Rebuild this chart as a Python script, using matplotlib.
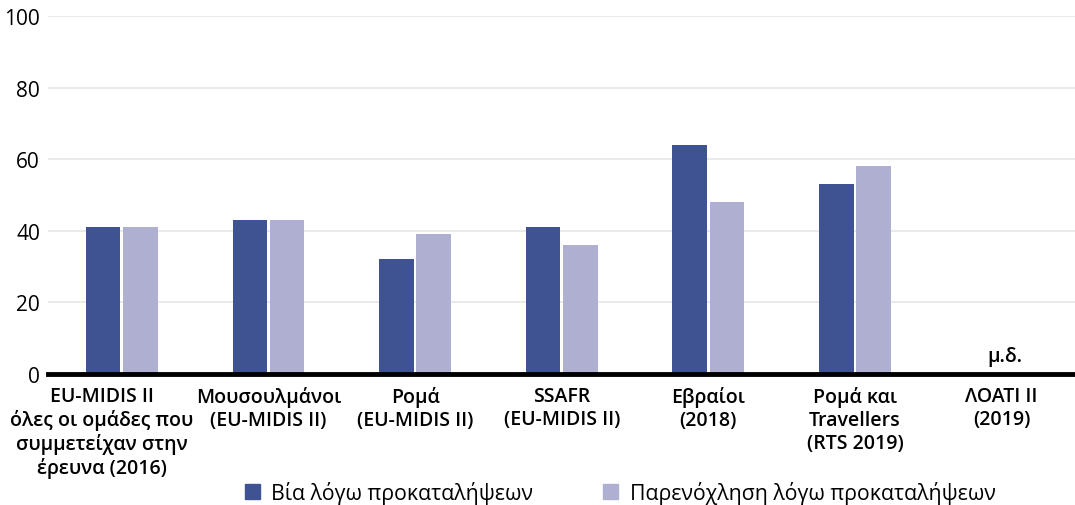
import matplotlib as mpl
mpl.use('Agg')
import numpy as np
import matplotlib.pyplot as plt
import matplotlib.transforms as mtransforms
from matplotlib.patches import Patch

plt.rcParams['font.family'] = ['Open Sans', 'Noto Sans', 'DejaVu Sans']

categories = [
    'EU-MIDIS II\nόλες οι ομάδες που\nσυμμετείχαν στην\nέρευνα (2016)',
    'Μουσουλμάνοι\n(EU-MIDIS II)',
    'Ρομά\n(EU-MIDIS II)',
    'SSAFR\n(EU-MIDIS II)',
    'Εβραίοι\n(2018)',
    'Ρομά και\nTravellers\n(RTS 2019)',
    'ΛΟΑΤΙ II\n(2019)',
]
violence = [41, 43, 32, 41, 64, 53, np.nan]
harassment = [41, 43, 39, 36, 48, 58, np.nan]
series_names = ['Βία λόγω προκαταλήψεων', 'Παρενόχληση λόγω προκαταλήψεων']
na_label = 'μ.δ.'

dark = '#3F5291'
light = '#AFAFD2'

fig = plt.figure(figsize=(10.75, 5.06), dpi=100)
ax = fig.add_axes([0.045, 0.259, 0.955, 0.707])

x = np.arange(len(categories))
w = 0.235
ax.bar(x - 0.127, violence, w, color=dark, zorder=3)
ax.bar(x + 0.127, harassment, w, color=light, zorder=3)

ax.text(x[-1] + 0.02, 2.2, na_label, ha='center', va='bottom', fontsize=14, fontweight='semibold')

ax.set_xlim(-0.5, len(categories) - 0.5)
ax.set_ylim(0, 100)
ax.set_yticks(np.arange(0, 101, 20))
ax.yaxis.grid(True, color='#E6E6E6', linewidth=1.2, zorder=0)
ax.set_xticks(x)
ax.set_xticklabels(categories, fontsize=14, fontweight='semibold', linespacing=1.17)
ax.tick_params(axis='x', length=0, pad=9)
ax.tick_params(axis='y', length=0, labelsize=15, pad=6)
for s in ['top', 'right', 'left']:
    ax.spines[s].set_visible(False)
ax.spines['bottom'].set_linewidth(3.5)
ax.spines['bottom'].set_zorder(4)

# first label sits a bit left of its bars in the original
lab0 = ax.get_xticklabels()[0]
lab0.set_transform(lab0.get_transform() + mtransforms.ScaledTranslation(-0.2, 0, fig.dpi_scale_trans))

handles = [Patch(color=dark), Patch(color=light)]
fig.legend(handles, series_names, loc='lower center', bbox_to_anchor=(0.577, -0.036),
           ncol=2, frameon=False, fontsize=15.3, handlelength=0.7, handleheight=0.7,
           columnspacing=3.3, handletextpad=0.55)

fig.savefig('out.png', dpi=100)
